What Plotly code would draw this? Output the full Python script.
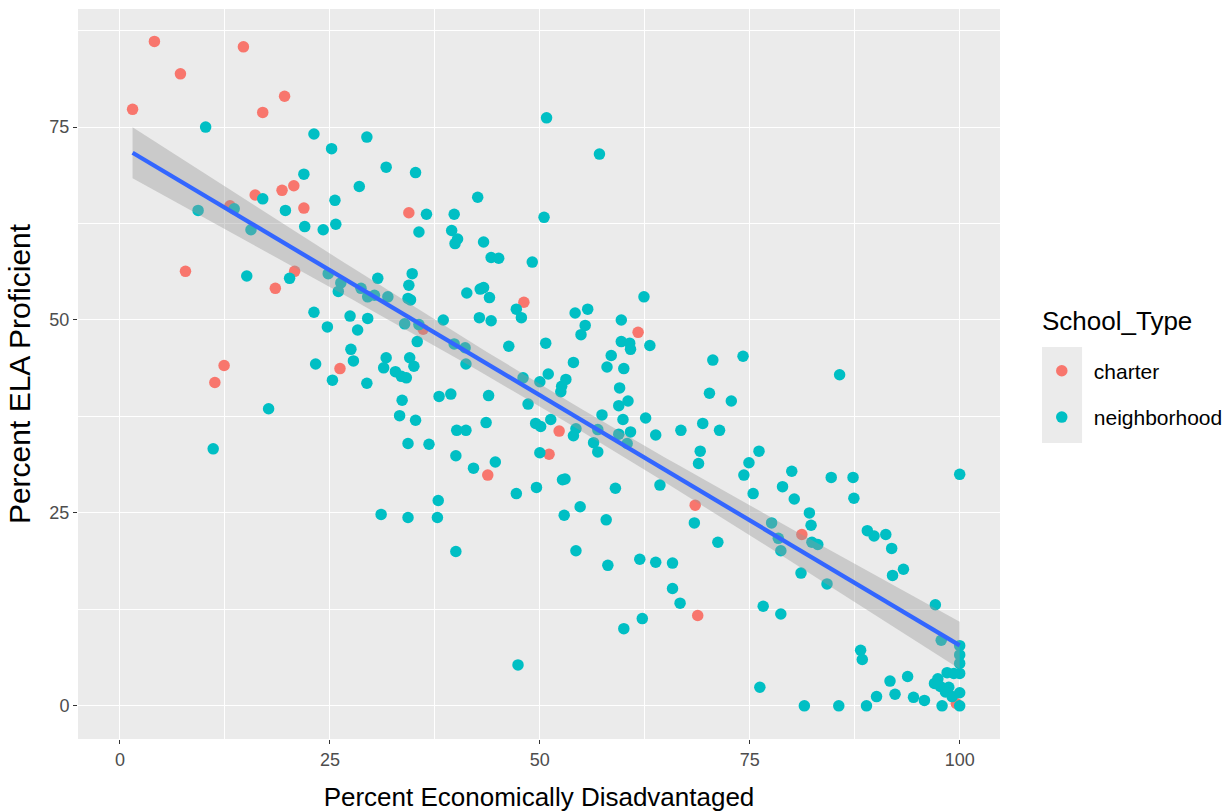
import numpy as np
import plotly.graph_objects as go

# ---- data ----
charter_x = [4.1, 14.7, 7.2, 1.5, 19.6, 17.0, 16.1, 19.3, 20.7, 21.9, 13.1, 34.4, 7.8, 18.5,
             20.8, 26.2, 12.4, 11.3, 48.1, 61.7, 52.3, 51.1, 43.8, 36.1, 68.5, 81.2, 68.8, 99.6]
charter_y = [86.1, 85.4, 81.9, 77.3, 79.0, 76.9, 66.2, 66.8, 67.4, 64.5, 64.8, 63.9, 56.3, 54.1,
             56.3, 43.7, 44.1, 41.9, 52.3, 48.4, 35.6, 32.6, 29.9, 48.8, 26.0, 22.2, 11.7, 0.3]

neigh_x = [
    10.2, 23.1, 25.2, 29.4, 31.7, 21.9, 28.5, 17.0, 25.6, 19.7, 9.3, 13.6, 15.6, 22.0, 24.2, 25.7,
    35.2, 50.8, 57.1, 42.6, 36.5, 39.8, 50.5, 35.6, 39.5, 40.2, 39.9, 43.3,
    15.1, 20.2, 24.8, 26.3, 26.0, 30.7, 28.7, 29.5, 30.3, 31.9, 23.1, 27.4, 29.5, 24.7, 28.3, 27.5,
    27.8, 23.3, 25.3, 29.4, 31.7, 31.4, 17.7, 11.1,
    44.2, 45.1, 49.1, 34.8, 34.4, 34.3, 34.6, 41.3, 42.9, 43.3, 44.0, 47.2, 47.8, 42.8, 44.2, 38.5,
    54.2, 55.7, 55.4, 54.9, 62.4, 59.7, 59.7, 60.7, 60.8, 63.1, 50.7, 46.3, 58.5, 58.0, 60.0, 54.0,
    51.0, 50.0, 48.0, 53.1, 52.6, 52.5, 59.5, 60.5, 59.4, 57.4, 59.9, 62.6, 48.6, 51.3, 49.5, 50.1,
    54.3, 54.0, 56.9, 59.4, 60.8, 63.8, 66.8, 56.4, 56.9, 60.4, 69.4, 69.1, 68.9, 50.0, 49.6, 53.0,
    52.7, 59.0, 64.3, 47.2, 44.7, 42.1, 40.0, 40.1, 41.2, 43.6, 38.0, 39.4, 43.9, 33.6, 33.3, 35.2,
    34.3, 36.8, 32.8, 33.5, 34.1, 34.5, 35.0, 35.4, 33.9, 35.6, 39.8, 41.1, 41.2,
    70.6, 74.2, 85.7, 70.2, 72.8, 71.4, 76.1, 74.9, 74.3, 80.0, 78.9, 84.7, 87.3, 100.0, 75.4, 80.3,
    87.4,
    82.1, 82.3, 77.6, 82.4, 83.1, 78.4, 78.7, 71.2, 68.4, 81.1, 84.2, 89.0, 89.8, 91.2, 91.9, 92.0,
    93.3, 97.1, 76.6, 78.7, 97.8, 100.0, 100.0, 100.0, 88.2, 88.4, 98.5, 99.3, 100.0, 91.7, 93.8, 97.0,
    97.4, 97.7, 98.7, 98.3, 99.1, 100.0, 100.0, 97.9, 92.3, 90.1, 94.5, 95.8, 88.9, 85.6, 81.5, 76.2,
    37.9, 34.3, 37.8, 40.0, 54.8, 52.9, 57.9, 54.3, 58.1, 61.9, 63.8, 65.8, 65.8, 66.7, 62.2, 60.0,
    47.4, 31.1]
neigh_y = [
    75.0, 74.1, 72.2, 73.7, 69.8, 68.9, 67.3, 65.7, 65.5, 64.2, 64.2, 64.4, 61.7, 62.1, 61.7, 62.4,
    69.1, 76.2, 71.5, 65.9, 63.7, 63.7, 63.3, 61.4, 61.6, 60.5, 59.9, 60.1,
    55.7, 55.4, 56.0, 54.8, 53.7, 55.4, 54.1, 53.0, 53.2, 53.0, 51.0, 50.5, 50.2, 49.1, 48.7, 46.2,
    44.7, 44.3, 42.2, 41.8, 45.1, 43.8, 38.5, 33.3,
    58.1, 58.0, 57.5, 56.0, 54.5, 52.8, 52.6, 53.5, 54.0, 54.2, 52.9, 51.4, 50.3, 50.3, 49.9, 50.0,
    50.9, 51.4, 49.3, 48.1, 53.0, 50.0, 47.2, 47.0, 46.2, 46.7, 47.0, 46.6, 45.4, 43.9, 43.7, 44.5,
    43.0, 42.0, 42.5, 42.3, 41.4, 40.7, 41.2, 39.5, 38.9, 37.7, 37.1, 37.3, 39.1, 37.1, 36.6, 36.2,
    35.9, 35.0, 35.8, 35.2, 35.5, 35.1, 35.7, 34.1, 32.9, 34.0, 36.6, 33.0, 31.4, 32.8, 28.3, 29.4,
    29.3, 28.2, 28.6, 27.5, 31.6, 30.8, 32.4, 35.7, 35.7, 36.7, 40.1, 40.4, 40.2, 39.6, 37.6, 37.0,
    34.0, 33.9, 43.3, 42.7, 42.5, 45.1, 44.0, 47.2, 49.5, 49.4, 46.9, 46.4, 44.3,
    44.8, 45.3, 42.9, 40.5, 39.5, 35.7, 33.0, 31.5, 29.9, 30.4, 28.4, 29.6, 29.6, 30.0, 27.5, 26.8,
    26.9,
    25.0, 23.4, 23.7, 21.2, 20.9, 21.7, 20.1, 21.2, 23.7, 17.2, 15.8, 22.7, 22.0, 22.2, 20.4, 16.9,
    17.7, 13.1, 12.9, 11.9, 8.5, 7.8, 6.6, 5.5, 7.2, 6.0, 4.3, 4.2, 4.2, 3.2, 3.8, 2.9,
    3.5, 2.5, 2.4, 1.8, 1.2, 1.7, 0.0, 0.0, 1.5, 1.2, 1.1, 0.7, 0.0, 0.0, 0.0, 2.4,
    26.6, 24.4, 24.4, 20.0, 25.8, 24.7, 24.1, 20.1, 18.2, 19.0, 18.6, 18.5, 15.2, 13.3, 11.3, 10.0,
    5.3, 24.8]

x_ticks = [0, 25, 50, 75, 100]
y_ticks = [0, 25, 50, 75]
minor_ticks = [12.5, 37.5, 62.5, 87.5]

# ---- linear fit with 95% confidence band (like geom_smooth(method="lm")) ----
ax = np.array(charter_x + neigh_x)
ay = np.array(charter_y + neigh_y)
n = len(ax)
slope, intercept = np.polyfit(ax, ay, 1)
resid = ay - (intercept + slope * ax)
s = np.sqrt(np.sum(resid ** 2) / (n - 2))
sxx = np.sum((ax - ax.mean()) ** 2)
xs = np.linspace(ax.min(), ax.max(), 80)
fit = intercept + slope * xs
se = s * np.sqrt(1.0 / n + (xs - ax.mean()) ** 2 / sxx)
tq = 1.9695
lo = fit - tq * se
hi = fit + tq * se

FONT = "Liberation Sans, Arial, Helvetica, sans-serif"

fig = go.Figure()
fig.add_trace(go.Scatter(x=charter_x, y=charter_y, mode="markers", name="charter",
                         legendgroup="a",
                         marker=dict(color="#F8766D", size=11.5, line=dict(width=0))))
fig.add_trace(go.Scatter(x=neigh_x, y=neigh_y, mode="markers", name="neighborhood",
                         legendgroup="b",
                         marker=dict(color="#00BFC4", size=11.5, line=dict(width=0))))
fig.add_trace(go.Scatter(x=xs, y=lo, mode="lines", line=dict(width=0), showlegend=False,
                         hoverinfo="skip"))
fig.add_trace(go.Scatter(x=xs, y=hi, mode="lines", line=dict(width=0), fill="tonexty",
                         fillcolor="rgba(153,153,153,0.4)", showlegend=False, hoverinfo="skip"))
fig.add_trace(go.Scatter(x=xs, y=fit, mode="lines", line=dict(color="#3366FF", width=4.3),
                         showlegend=False))

axis_common = dict(
    showgrid=True, gridcolor="white", gridwidth=1.3, zeroline=False, showline=False,
    ticks="outside", ticklen=4, tickcolor="#333333", tickwidth=1.2, automargin=False,
    tickfont=dict(family=FONT, size=18, color="#4D4D4D"),
    minor=dict(showgrid=True, gridcolor="white", gridwidth=0.6, ticks=""),
)

fig.update_xaxes(range=[-5.0, 104.8], tickvals=x_ticks, ticktext=[str(v) for v in x_ticks],
                 minor_tickvals=minor_ticks,
                 title=dict(text="Percent Economically Disadvantaged",
                            font=dict(family=FONT, size=26, color="black"), standoff=20),
                 **axis_common)
fig.update_yaxes(range=[-4.3, 90.3], tickvals=y_ticks, ticktext=[str(v) for v in y_ticks],
                 minor_tickvals=minor_ticks,
                 title=dict(text="Percent ELA Proficient",
                            font=dict(family=FONT, size=30, color="black"), standoff=9),
                 **axis_common)

fig.update_layout(
    width=1229, height=812,
    margin=dict(l=78, r=229, t=9, b=73, autoexpand=False),
    paper_bgcolor="white", plot_bgcolor="#EBEBEB",
    font=dict(family=FONT),
    showlegend=True,
    legend=dict(
        x=1.0323, y=0.532, xanchor="left", yanchor="top",
        font=dict(family=FONT, size=21, color="black"),
        itemwidth=54, tracegroupgap=16, bgcolor="rgba(0,0,0,0)",
    ),
    annotations=[dict(text="School_Type", xref="paper", yref="paper",
                      x=1.0434, y=0.5725, xanchor="left", yanchor="middle", showarrow=False,
                      font=dict(family=FONT, size=26, color="black"))],
    shapes=[dict(type="rect", xref="paper", yref="paper",
                 x0=1.0456, x1=1.089, y0=0.4055, y1=0.537,
                 fillcolor="#EBEBEB", line=dict(width=0), layer="below")],
)

fig.write_html("out.html", config={"displayModeBar": False},
               post_script="document.body.style.margin='0';document.body.style.overflow='hidden';")
